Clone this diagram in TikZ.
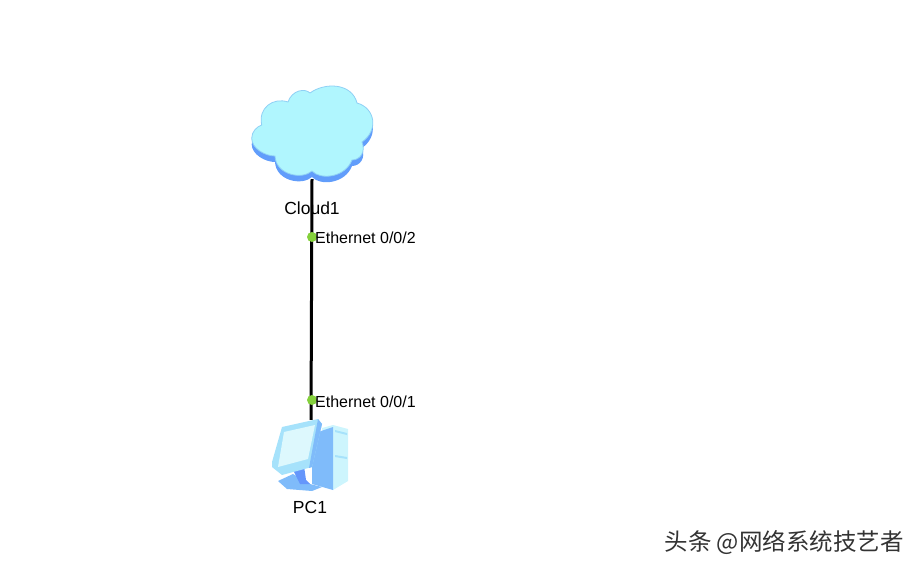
\documentclass[tikz,border=0pt]{standalone}
\usepackage{fontspec}
\setmainfont{Liberation Sans}
\newfontfamily\cjk{Noto Sans CJK SC}
\definecolor{cloudtop}{HTML}{B0F6FE}
\definecolor{cloudedge}{HTML}{8FD0F5}
\definecolor{cloudside}{HTML}{619DFB}
\definecolor{portdot}{HTML}{84D03C}
\definecolor{pcface}{HTML}{A6E2FB}
\definecolor{pcscreen}{HTML}{DDF8FD}
\definecolor{pcside}{HTML}{7FBBFA}
\definecolor{pctower}{HTML}{CDF5FD}
\tikzset{
  port/.style={circle,fill=portdot,inner sep=0pt,minimum size=10pt},
  portlabel/.style={right,inner sep=0pt,font=\fontsize{16}{18}\selectfont},
  devlabel/.style={inner sep=0pt,font=\fontsize{17.5}{20}\selectfont},
  link/.style={line width=3pt,black}
}
\def\cloudoutline{(261.7,125) .. controls (258,108) and (273,97) .. (288,102)
  .. controls (292,90) and (305,88) .. (310,93)
  .. controls (325,82) and (352,83) .. (357,103)
  .. controls (375,108) and (379,130) .. (362,142)
  .. controls (366,152) and (360,160) .. (352,160)
  .. controls (345,178) and (320,180) .. (312,171)
  .. controls (302,180) and (276,175) .. (275,156)
  .. controls (265,156) and (251.7,148.3) .. (251.7,138.3)
  .. controls (251.7,131.7) and (256.7,126.7) .. (261.7,125) -- cycle}
\begin{document}
\begin{tikzpicture}[x=1pt,y=-1pt]
  \useasboundingbox (0,0) rectangle (920,572);
  \fill[cloudside] [yshift=-6pt] \cloudoutline;
  \filldraw[fill=cloudtop,draw=cloudedge,line width=0.8pt] \cloudoutline;
  \node at (312,130) [minimum width=120pt,minimum height=98pt,inner sep=0pt] (cloud1) {};
  \node at (311,456) [minimum width=76pt,minimum height=72pt,inner sep=0pt] (pc1) {};
  \draw[link] (cloud1.south) -- (pc1.north);
  % tower
  \fill[pctower] (322,428) -- (333,425) -- (348,429) -- (348,481) -- (333,490) -- cycle;
  \fill[pcside] (312,434) -- (333,427) -- (333,490) -- (312,484) -- cycle;
  \fill[pcface] (335,430) -- (347,433) -- (347,435) -- (335,432) -- cycle;
  \fill[pcface] (335,455) -- (347,457) -- (347,459) -- (335,457) -- cycle;
  % foot
  \fill[pcside] (278,481) -- (293,474) -- (310,484) -- (322,487) -- (312,491) -- (287,489) -- cycle;
  \fill[pcside!80!blue] (293,470) -- (304,466) -- (306,480) -- (310,484) -- (300,484) -- cycle;
  % monitor
  \fill[pcface] (282,427) -- (318,419) -- (322,424) -- (312,467) -- (282,475) -- (272,467) -- (272,462) -- cycle;
  \fill[pcside] (318,419) -- (322,424) -- (312,467) -- (309,468) -- cycle;
  \fill[pcscreen] (284,432) -- (315,425) -- (308,459) -- (278,467) -- cycle;
  \node at (312,237) [port] (p2) {};
  \node at (312,400) [port] (p1) {};
  \node at (315,238) [portlabel] (p2text) {Ethernet 0/0/2};
  \node at (315,402) [portlabel] (p1text) {Ethernet 0/0/1};
  \node at (312,208) [devlabel] (cloud1text) {Cloud1};
  \node at (310,507) [devlabel] (pc1text) {PC1};
  \node at (784,543) [inner sep=0pt,text=black!80,font=\cjk\fontsize{23.5}{26}\selectfont] (mark) {头条 @网络系统技艺者};
\end{tikzpicture}
\end{document}
